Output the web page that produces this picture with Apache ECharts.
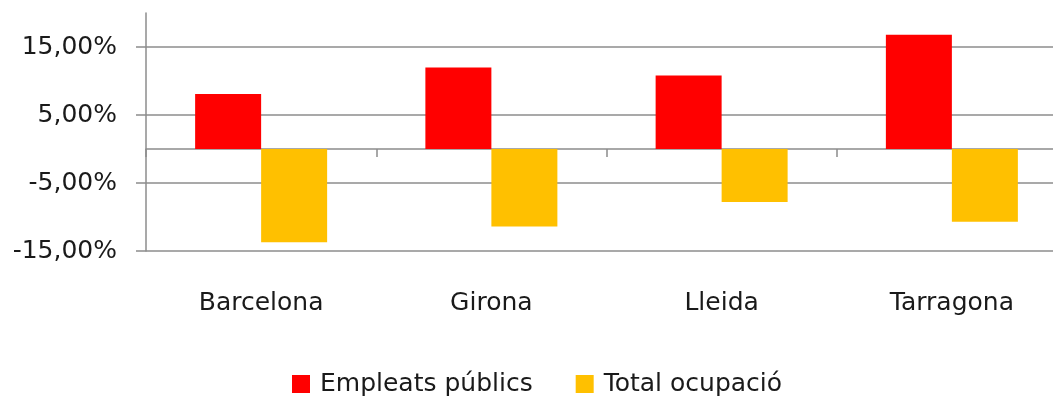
<!DOCTYPE html>
<html>
<head>
<meta charset="utf-8">
<script src="https://cdn.jsdelivr.net/npm/echarts@6/dist/echarts.min.js"></script>
<style>
  html, body { margin: 0; padding: 0; background: #fff; }
  #main { width: 1053px; height: 401px; }
</style>
</head>
<body>
<div id="main"></div>
<script>
const categories = ["Barcelona", "Girona", "Lleida", "Tarragona"];
const empleatsPublics = [8.1, 12.0, 10.8, 16.8];
const totalOcupacio = [-13.7, -11.4, -7.8, -10.7];
const seriesNames = ["Empleats públics", "Total ocupació"];

var chartDom = document.getElementById("main");
var myChart = echarts.init(chartDom);
var option;

const font = "'DejaVu Sans', sans-serif";
const textColor = "#1a1a1a";
const lineColor = "#8c8c8c";

function pct(v) {
  return v.toFixed(2).replace(".", ",") + "%";
}

option = {
  animation: false,
  textStyle: { fontFamily: font },
  color: ["#FF0000", "#FFC000"],
  legend: {
    data: seriesNames,
    left: 292,
    top: 371,
    padding: 0,
    itemWidth: 18,
    itemHeight: 18,
    itemGap: 43,
    icon: "rect",
    textStyle: { fontSize: 25, lineHeight: 26, color: textColor, fontFamily: font, padding: [0, 0, 0, 5] },
  },
  grid: {
    left: 146,
    width: 921,
    top: 13,
    bottom: 150,
    containLabel: false,
    outerBoundsMode: "none",
  },
  xAxis: [
    {
      type: "category",
      data: categories,
      axisLine: { onZero: true, lineStyle: { color: lineColor, width: 1.5 } },
      axisTick: { show: true, length: 8, lineStyle: { color: lineColor, width: 1.5 } },
      axisLabel: { show: false },
    },
    {
      type: "category",
      data: categories,
      position: "bottom",
      axisLine: { show: false, onZero: false },
      axisTick: { show: false },
      axisLabel: { margin: 40, fontSize: 25, color: textColor, fontFamily: font },
    },
  ],
  yAxis: {
    type: "value",
    min: -15,
    max: 20,
    interval: 10,
    axisLine: { show: true, lineStyle: { color: lineColor, width: 1.5 } },
    axisTick: { show: true, length: 10, lineStyle: { color: lineColor, width: 1.5 } },
    axisLabel: {
      showMaxLabel: false,
      margin: 29,
      fontSize: 25,
      color: textColor,
      fontFamily: font,
      formatter: function (v) { return v === 20 ? "" : pct(v); },
    },
    splitLine: { show: true, showMaxLine: false, lineStyle: { color: lineColor, width: 1.5 } },
  },
  series: [
    {
      name: seriesNames[0],
      type: "bar",
      xAxisIndex: 0,
      data: empleatsPublics,
      barWidth: 66,
      barGap: "0%",
    },
    {
      name: seriesNames[1],
      type: "bar",
      xAxisIndex: 0,
      data: totalOcupacio,
      barWidth: 66,
      barGap: "0%",
    },
  ],
};

option && myChart.setOption(option);
</script>
</body>
</html>
